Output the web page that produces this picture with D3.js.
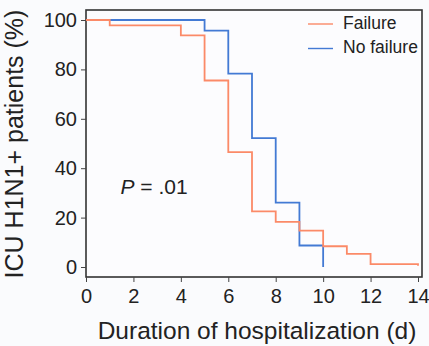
<!DOCTYPE html>
<html>
<head>
<meta charset="utf-8">
<script src="https://cdn.jsdelivr.net/npm/d3@7"></script>
<style>
html,body{margin:0;padding:0;background:#fafbfd;}
svg{display:block;}
text{font-family:"Liberation Sans",Arial,sans-serif;fill:#222;}
</style>
</head>
<body>
<svg id="chart" width="429" height="346"></svg>
<script>
// Data (Kaplan-Meier step curves): time (days) and survival (%)
const failureTimes = [0, 1, 4, 5, 6, 7, 8, 9, 10, 11, 12, 14];
const failureValues = [100, 97.8, 93.8, 75.5, 46.5, 22.5, 18.3, 14.7, 8.4, 5.3, 1.2, 0.5];
const noFailureTimes = [0, 5, 6, 7, 8, 9, 10];
const noFailureValues = [100, 95.7, 78.3, 52.2, 26.1, 8.7, 0];
const xTicks = [0, 2, 4, 6, 8, 10, 12, 14];
const yTicks = [0, 20, 40, 60, 80, 100];
const seriesNames = ["Failure", "No failure"];
const colors = ["#fb8a68", "#437ad4"];

const svg = d3.select("#chart");
const L = 86, R = 422, T = 10, B = 277;
const x = d3.scaleLinear().domain([0, 14]).range([86, 418]);
const y = d3.scaleLinear().domain([0, 100]).range([267, 20]);

// frame
svg.append("rect").attr("x", L).attr("y", T).attr("width", R - L).attr("height", B - T)
  .attr("fill", "#fcfcfe").attr("stroke", "#333").attr("stroke-width", 1.6);

// axes
const xAxis = d3.axisBottom(x).tickValues(xTicks).tickSize(5).tickFormat(d3.format("d"));
const gx = svg.append("g").attr("transform", `translate(0,${B})`).call(xAxis);
gx.select(".domain").remove();
gx.selectAll(".tick line").attr("stroke", "#444");
gx.selectAll(".tick text").attr("font-size", 20).attr("dy", 0).attr("y", 25.5)
  .style("font-family", "Liberation Sans, Arial, sans-serif").attr("fill", "#222");

const yAxis = d3.axisLeft(y).tickValues(yTicks).tickSize(5);
const gy = svg.append("g").attr("transform", `translate(${L},0)`).call(yAxis);
gy.select(".domain").remove();
gy.selectAll(".tick line").attr("stroke", "#444");
gy.selectAll(".tick text").attr("font-size", 20).attr("x", -9)
  .style("font-family", "Liberation Sans, Arial, sans-serif").attr("fill", "#222");

// step lines
const line = d3.line().x(d => x(d[0])).y(d => y(d[1])).curve(d3.curveStepAfter);
const noFailure = noFailureTimes.map((t, i) => [t, noFailureValues[i]]);
const failure = failureTimes.map((t, i) => [t, failureValues[i]]);
svg.append("path").datum(noFailure).attr("d", line).attr("fill", "none")
  .attr("stroke", colors[1]).attr("stroke-width", 1.8);
svg.append("path").datum(failure).attr("d", line).attr("fill", "none")
  .attr("stroke", colors[0]).attr("stroke-width", 1.8);

// legend
seriesNames.forEach((name, i) => {
  const ly = 24 + i * 24.5;
  svg.append("line").attr("x1", 308).attr("x2", 333).attr("y1", ly).attr("y2", ly)
    .attr("stroke", colors[i]).attr("stroke-width", 1.4);
  svg.append("text").attr("x", 343).attr("y", ly - 1.5).attr("dy", "0.35em")
    .attr("font-size", 17.5).text(name);
});

// P value
const pt = svg.append("text").attr("x", 120.5).attr("y", 194).attr("font-size", 21);
pt.append("tspan").attr("font-style", "italic").text("P");
pt.append("tspan").text(" = .01");

// axis titles
svg.append("text").attr("x", 257).attr("y", 338.5).attr("text-anchor", "middle")
  .attr("font-size", 24.5).text("Duration of hospitalization (d)");
svg.append("text").attr("transform", `translate(23,144) rotate(-90)`)
  .attr("text-anchor", "middle").attr("font-size", 25).text("ICU H1N1+ patients (%)");
</script>
</body>
</html>
